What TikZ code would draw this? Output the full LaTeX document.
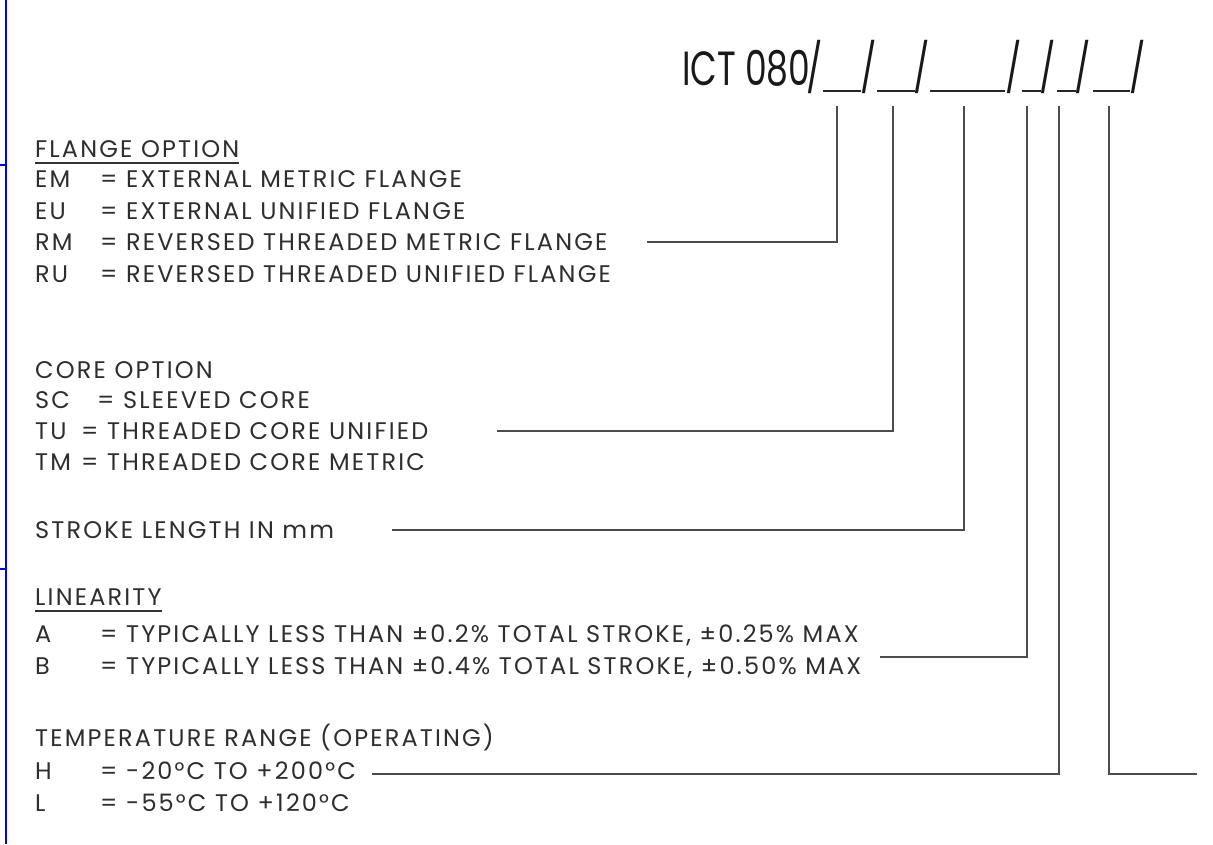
\documentclass[tikz,border=0pt]{standalone}
\usepackage{fontspec}
\setmainfont{Poppins}[LetterSpace=9]
\newfontfamily\hdrfont[FakeStretch=0.72]{Poppins}
\usetikzlibrary{calc}
\tikzset{
  txt/.style={anchor=base west, inner sep=0pt, text=black!82, font=\fontsize{24}{24}\selectfont},
  hdr/.style={anchor=base west, inner sep=0pt, text=black!90, font=\hdrfont\fontsize{48}{48}\selectfont},
  slash/.style={anchor=base, inner sep=0pt, text=black!90, font=\hdrfont\fontsize{48}{48}\selectfont},
  leader/.style={draw=black!70, line width=1.4pt},
  blank/.style={draw=black!85, line width=1.6pt},
  frame/.style={draw=blue, line width=2pt}
}
\begin{document}
\begin{tikzpicture}[x=1pt,y=-1pt]
\useasboundingbox (0,0) rectangle (1213,844);
\fill[white] (0,0) rectangle (1213,844);
% left blue frame
\coordinate (ft) at (6,0); \coordinate (fb) at (6,844);
\coordinate (t1a) at (0,165); \coordinate (t1b) at (6,165);
\coordinate (t2a) at (0,569); \coordinate (t2b) at (6,569);
\draw[frame] (ft) -- (fb);
\draw[frame] (t1a) -- (t1b);
\draw[frame] (t2a) -- (t2b);

% header
\node[hdr] (ict) at (682,85) {ICT 080};
\node[slash] (s0) at (815,85) {/};
\node[slash] (s1) at (869,85) {/};
\node[slash] (s2) at (922,85) {/};
\node[slash] (s3) at (1014,85) {/};
\node[slash] (s4) at (1048,85) {/};
\node[slash] (s5) at (1083,85) {/};
\node[slash] (s6) at (1138,85) {/};
\draw[blank] (823,91) -- (861,91);
\draw[blank] (877,91) -- (915,91);
\draw[blank] (930,91) -- (1005,91);
\draw[blank] (1022,91) -- (1041,91);
\draw[blank] (1057,91) -- (1076,91);
\draw[blank] (1093,91) -- (1130,91);
% leader tops
\coordinate (L1) at (837,106);
\coordinate (L2) at (893,106);
\coordinate (L3) at (964,106);
\coordinate (L4) at (1027,106);
\coordinate (L5) at (1059,106);
\coordinate (L6) at (1109,106);

% flange option
\node[txt] (fo) at (35,157) {FLANGE OPTION};
\draw[black!80, line width=1.2pt] ([yshift=-6pt]fo.base west) -- ([yshift=-6pt]fo.base east);
\node[txt] (em) at (35,187) {EM};   \node[txt] (emd) at (100,187) {= EXTERNAL METRIC FLANGE};
\node[txt] (eu) at (35,219) {EU};   \node[txt] (eud) at (100,219) {= EXTERNAL UNIFIED FLANGE};
\node[txt] (rm) at (35,250) {RM};   \node[txt] (rmd) at (100,250) {= REVERSED THREADED METRIC FLANGE};
\node[txt] (ru) at (35,282) {RU};   \node[txt] (rud) at (100,282) {= REVERSED THREADED UNIFIED FLANGE};
\coordinate (c1) at (647,242);
\draw[leader] (c1) -| (L1);

% core option
\node[txt] (co) at (35,378) {CORE OPTION};
\node[txt] (sc) at (35,408) {SC};   \node[txt] (scd) at (97,408) {= SLEEVED CORE};
\node[txt] (tu) at (35,439) {TU};   \node[txt] (tud) at (81,439) {= THREADED CORE UNIFIED};
\node[txt] (tm) at (35,470) {TM};   \node[txt] (tmd) at (81,470) {= THREADED CORE METRIC};
\coordinate (c2) at (497,431);
\draw[leader] (c2) -| (L2);

% stroke
\node[txt] (st) at (35,538) {STROKE LENGTH IN mm};
\coordinate (c3) at (392,530);
\draw[leader] (c3) -| (L3);

% linearity
\node[txt] (li) at (35,605) {LINEARITY};
\draw[black!80, line width=1.2pt] ([yshift=-6pt]li.base west) -- ([yshift=-6pt]li.base east);
\node[txt] (la) at (35,642) {A};   \node[txt] (lad) at (100,642) {= TYPICALLY LESS THAN ±0.2\% TOTAL STROKE, ±0.25\% MAX};
\node[txt] (lb) at (35,674) {B};   \node[txt] (lbd) at (100,674) {= TYPICALLY LESS THAN ±0.4\% TOTAL STROKE, ±0.50\% MAX};
\coordinate (c4) at (880,657);
\draw[leader] (c4) -| (L4);

% temperature
\node[txt] (te) at (35,746) {TEMPERATURE RANGE (OPERATING)};
\node[txt] (th) at (35,779) {H};   \node[txt] (thd) at (100,779) {= -20°C TO +200°C};
\node[txt] (tl) at (35,811) {L};   \node[txt] (tld) at (100,811) {= -55°C TO +120°C};
\coordinate (c5) at (372,774);
\draw[leader] (c5) -| (L5);
\coordinate (c6) at (1197,774);
\draw[leader] (c6) -| (L6);
\end{tikzpicture}
\end{document}
